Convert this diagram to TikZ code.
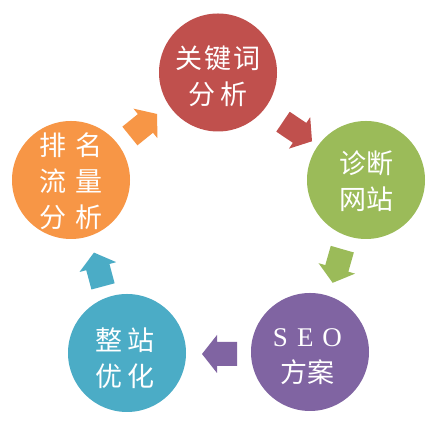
\documentclass[tikz,border=0pt]{standalone}
\usepackage{fontspec}
\setmainfont{Liberation Serif}
\newfontfamily\cjk{Noto Sans CJK SC}
\definecolor{cred}{HTML}{C0504D}
\definecolor{cgreen}{HTML}{9BBB59}
\definecolor{cpurple}{HTML}{8064A2}
\definecolor{cteal}{HTML}{4BACC6}
\definecolor{corange}{HTML}{F79646}
\tikzset{
  bubble/.style={circle, minimum size=118pt, inner sep=0pt},
  label text/.style={text=white, align=center, inner sep=0pt,
    font=\cjk\fontsize{27}{36}\selectfont},
  blockarrow/.pic={\fill[pic actions] (-17.5,-12) -- (2.5,-12) -- (2.5,-19)
     -- (17.5,0) -- (2.5,19) -- (2.5,12) -- (-17.5,12) -- cycle;}
}
\begin{document}
\begin{tikzpicture}[x=1pt,y=1pt]
\useasboundingbox (0,0) rectangle (440,430);
\fill[white] (0,0) rectangle (440,430);
% circles
\node[bubble, fill=cred]    (red)    at (218,357.5) {};
\node[bubble, fill=cgreen]  (green)  at (366,250) {};
\node[bubble, fill=cpurple] (purple) at (310,78) {};
\node[bubble, fill=cteal]   (teal)   at (127,77) {};
\node[bubble, fill=corange] (orange) at (71,250) {};
% texts
\node[label text] (redt)    at (218,354) {关\hspace{2pt}键\hspace{2pt}词\\分\hspace{5pt}析};
\node[label text] (greent)  at (366,248.5) {诊断\\网站};
\node[label text] (purplet) at (307.5,73) {{\rmfamily S\hspace{9pt}E\hspace{9pt}O}\\方案};
\node[label text] (tealt)   at (125,71.5) {整\hspace{5pt}站\\优\hspace{5pt}化};
\node[label text] (oranget) at (71,249) {排\hspace{10pt}名\\流\hspace{10pt}量\\分\hspace{10pt}析};
% block arrows
\pic[fill=corange, rotate=39]  (a1) at (143.5,305) {blockarrow};
\pic[fill=cred, rotate=-34]    (a2) at (297.5,298.5) {blockarrow};
\pic[fill=cgreen, rotate=254]  (a3) at (337.5,164) {blockarrow};
\pic[fill=cpurple, rotate=180] (a4) at (219.5,76) {blockarrow};
\pic[fill=cteal, rotate=105]   (a5) at (98.5,160.5) {blockarrow};
\end{tikzpicture}
\end{document}
